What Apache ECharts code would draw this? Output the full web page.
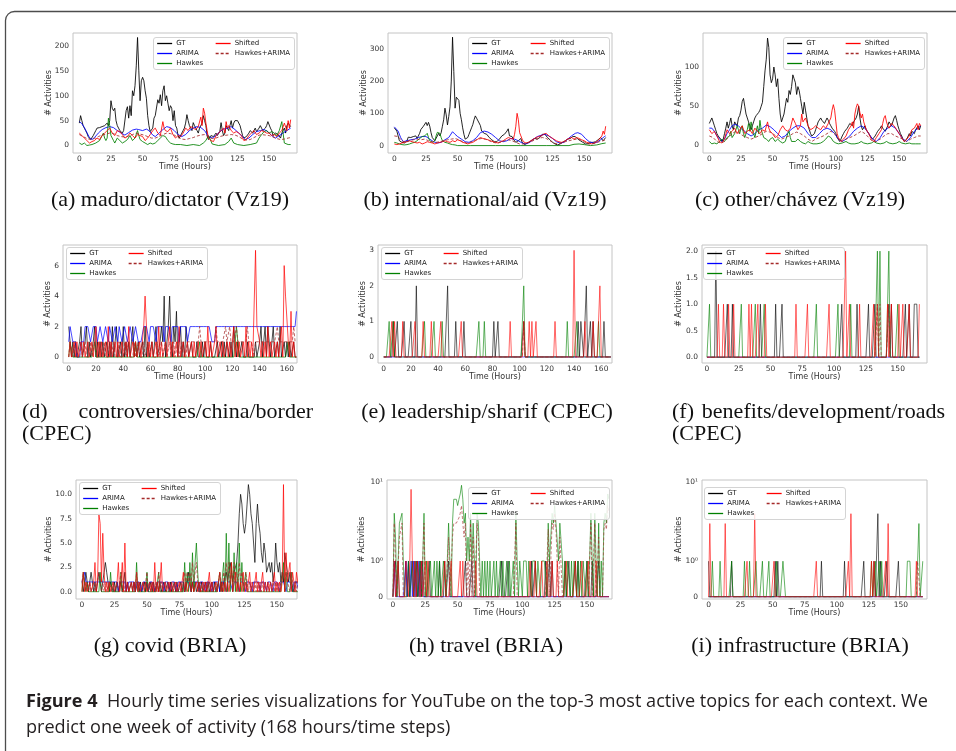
<!DOCTYPE html>
<html>
<head>
<meta charset="utf-8">
<script src="https://cdn.jsdelivr.net/npm/echarts@6/dist/echarts.min.js"></script>
<style>
html,body{margin:0;padding:0;background:#fff}
#chart{width:956px;height:751px}
</style>
</head>
<body>
<div id="chart"></div>
<script>
// ---------------------------------------------------------------
// Hourly activity series (168 hourly steps = one week) per topic.
// Dense lists are hourly values from hour 0; pair lists are [hour, value].
// ---------------------------------------------------------------

// (a) maduro/dictator (Vz19)
const aGT = [
  45,60,50,40,35,30,25,18,14,12,15,20,25,30,35,38,36,40,38,35,40,42,45,40,
  50,90,75,70,75,50,40,35,30,28,25,30,30,70,78,55,80,60,110,100,120,160,217,150,
  90,130,137,130,110,95,60,40,28,30,35,55,60,62,92,85,102,80,110,120,90,100,85,70,
  80,75,50,70,40,35,20,15,18,25,30,35,45,62,50,40,35,30,46,40,35,30,25,35,
  38,45,60,50,40,20,12,15,20,22,18,20,25,20,22,28,46,30,20,25,40,35,30,40,
  50,35,45,50,48,50,52,40,30,20,15,12,18,22,25,30,28,25,30,35,28,25,35,40,
  35,30,28,35,40,48,45,35,30,20,18,25,28,22,20,15,25,30,35,25,40,45,48,38
];
const aARIMA = [[0,48],[2,44],[4,36],[6,26],[8,16],[10,12],[12,16],[15,25],[18,32],[21,36],[24,38],[27,36],[30,30],[33,25],[36,21],[39,26],[42,31],[45,33],[47,32],[50,30],[53,33],[55,30],[58,21],[60,18],[63,25],[66,32],[69,38],[72,36],[75,30],[78,22],[81,18],[84,22],[87,30],[90,35],[93,38],[96,36],[99,30],[102,18],[105,15],[108,20],[111,28],[114,33],[117,35],[120,38],[123,32],[126,25],[129,18],[131,12],[134,15],[137,22],[140,28],[143,30],[146,32],[149,28],[152,20],[155,15],[158,20],[161,25],[164,30],[167,35]];
const aHawkes = [[0,5],[1,8],[2,2],[4,5],[6,0],[8,1],[10,2],[13,5],[16,10],[18,20],[19,25],[20,15],[21,10],[22,15],[23,55],[24,40],[25,20],[26,15],[27,10],[28,5],[30,15],[32,10],[34,5],[36,8],[38,12],[40,20],[42,10],[44,15],[46,30],[47,20],[48,12],[50,8],[52,5],[54,2],[56,5],[58,3],[60,5],[62,10],[64,15],[66,20],[68,18],[70,10],[72,5],[74,3],[76,2],[80,2],[85,0],[90,2],[95,0],[98,5],[100,10],[102,20],[103,15],[105,3],[110,0],[115,2],[118,8],[120,15],[122,5],[125,2],[130,0],[135,2],[140,5],[142,15],[144,22],[146,28],[148,30],[150,25],[152,28],[154,25],[156,20],[158,30],[160,48],[161,25],[162,5],[165,2],[167,2]];
const aShifted = [[0,25],[2,20],[4,15],[6,10],[8,5],[10,8],[12,10],[14,15],[16,12],[18,20],[20,25],[22,30],[24,35],[26,25],[28,20],[30,30],[32,28],[34,22],[36,15],[38,18],[40,25],[42,20],[44,15],[46,22],[48,20],[50,18],[52,10],[54,15],[56,22],[58,30],[60,35],[62,25],[64,20],[66,48],[67,35],[68,30],[70,28],[72,35],[74,22],[76,15],[78,20],[80,18],[82,25],[84,35],[86,30],[88,38],[90,35],[92,32],[94,38],[96,57],[97,40],[98,75],[99,65],[100,45],[101,30],[102,15],[104,10],[106,8],[108,20],[110,25],[112,30],[114,35],[115,25],[116,48],[117,35],[118,40],[120,30],[122,25],[124,28],[126,25],[128,20],[130,10],[132,12],[134,20],[136,25],[138,30],[140,22],[142,25],[144,30],[146,28],[148,25],[150,25],[152,20],[154,22],[156,18],[158,25],[160,30],[162,45],[164,30],[165,50],[166,35],[167,52]];
const aHA = [[0,22],[3,18],[6,14],[9,12],[12,14],[15,18],[18,21],[21,23],[24,25],[27,24],[30,20],[33,18],[36,17],[39,19],[42,22],[45,25],[48,23],[51,21],[54,18],[57,15],[60,15],[63,18],[66,22],[69,25],[72,24],[75,21],[78,16],[81,13],[84,12],[87,14],[90,16],[93,19],[96,21],[99,22],[102,17],[105,14],[108,15],[111,18],[114,20],[117,21],[120,22],[123,21],[126,18],[129,13],[132,11],[135,12],[138,16],[141,20],[144,22],[147,21],[150,20],[153,17],[156,14],[159,12],[162,13],[165,15],[167,16]];

// (b) international/aid (Vz19)
const bGT = [
  55,50,45,30,15,12,10,10,8,10,15,26,20,25,22,28,25,30,22,25,38,50,45,60,
  55,72,62,72,60,40,25,20,15,20,30,38,30,40,60,80,116,95,64,90,120,200,336,230,
  116,150,156,140,100,80,55,35,20,18,25,35,45,55,65,80,92,85,80,70,62,45,40,38,
  40,35,30,25,20,18,15,12,10,12,15,20,25,30,28,35,40,45,52,30,25,28,20,15,
  10,12,15,20,22,10,5,3,5,8,10,12,15,18,20,22,25,20,22,25,30,35,38,35,
  30,25,22,18,15,10,8,5,3,2,3,5,8,10,12,15,18,20,25,22,25,28,30,28,
  25,20,18,15,12,10,8,5,5,6,8,10,12,10,8,12,15,18,20,25,20,15,20,25
];
const bARIMA = [[0,58],[1,55],[3,45],[5,25],[7,12],[10,15],[13,18],[16,20],[19,25],[22,28],[25,28],[28,20],[31,12],[34,8],[37,10],[40,18],[43,25],[46,43],[48,35],[50,28],[53,20],[56,12],[59,10],[62,15],[65,25],[68,40],[71,45],[74,42],[77,35],[80,25],[83,15],[86,12],[89,15],[92,22],[95,20],[98,15],[101,8],[104,5],[107,10],[110,20],[113,28],[116,32],[119,35],[122,30],[125,22],[128,12],[131,8],[134,10],[137,20],[140,30],[143,38],[145,40],[148,35],[151,22],[154,12],[157,8],[160,10],[163,18],[166,28],[167,30]];
const bHawkes = [[0,10],[2,8],[4,5],[6,3],[8,2],[10,3],[12,5],[14,8],[16,10],[18,15],[20,22],[22,28],[24,30],[26,38],[27,25],[28,15],[30,10],[32,15],[33,30],[34,41],[35,42],[36,38],[37,25],[38,15],[40,10],[42,8],[44,5],[46,3],[48,2],[50,0],[60,0],[80,0],[100,0],[120,0],[138,0],[142,4],[146,5],[150,3],[155,0],[160,2],[164,6],[167,8]];
const bShifted = [[0,5],[2,3],[4,5],[6,8],[8,10],[10,12],[12,15],[14,12],[16,10],[18,8],[20,10],[22,5],[24,8],[26,12],[28,10],[30,8],[32,5],[34,8],[36,10],[38,12],[40,15],[42,12],[44,10],[46,15],[48,12],[50,18],[52,15],[54,10],[56,8],[58,5],[60,8],[62,10],[64,15],[66,20],[68,25],[70,22],[72,20],[74,18],[76,15],[78,12],[80,10],[82,8],[84,12],[86,15],[88,20],[90,25],[92,22],[94,20],[95,35],[96,60],[97,100],[98,80],[99,40],[100,30],[101,20],[102,12],[104,8],[106,10],[108,15],[110,20],[112,25],[114,28],[116,30],[118,35],[120,38],[122,30],[124,25],[126,20],[128,15],[130,12],[132,10],[134,12],[136,18],[138,22],[140,25],[142,20],[144,25],[146,22],[148,18],[150,15],[152,10],[154,8],[156,5],[158,8],[160,12],[162,20],[164,30],[165,45],[166,35],[167,60]];
const bHA = [[0,30],[3,28],[6,15],[9,10],[12,15],[15,18],[18,20],[21,18],[24,20],[27,15],[30,12],[33,10],[36,12],[39,15],[42,18],[45,20],[48,22],[51,18],[54,12],[57,8],[60,10],[63,15],[66,20],[69,22],[72,20],[75,15],[78,10],[81,8],[84,10],[87,15],[90,18],[93,15],[96,10],[99,5],[102,5],[105,8],[108,12],[111,18],[114,22],[117,25],[120,22],[123,15],[126,8],[129,5],[132,8],[135,12],[138,15],[141,18],[144,20],[147,18],[150,12],[153,5],[156,5],[159,8],[162,12],[165,15],[167,18]];

// (c) other/chávez (Vz19)
const cGT = [
  28,30,35,33,25,20,15,12,10,8,5,8,15,22,30,22,28,35,25,20,30,32,25,35,
  38,45,56,60,50,40,35,30,25,20,25,30,35,38,40,42,45,50,55,75,95,110,137,125,
  90,80,85,100,90,75,85,60,40,30,35,40,50,60,55,70,65,75,90,85,80,65,75,70,
  60,50,40,55,45,35,25,20,15,12,10,15,20,25,30,28,35,32,30,28,30,35,32,28,
  25,22,20,18,15,10,8,5,8,12,15,18,20,22,25,28,30,25,30,28,35,40,50,35,
  25,20,22,25,20,18,15,12,10,8,10,12,15,18,20,22,25,22,20,18,20,25,30,28,
  25,30,35,38,32,25,20,15,12,8,5,6,8,10,15,12,18,20,15,20,22,25,20,25
];
const cARIMA = [[0,22],[2,22],[4,18],[6,12],[8,8],[10,5],[12,8],[14,15],[16,20],[18,25],[20,27],[23,25],[26,20],[28,18],[30,15],[33,12],[36,15],[39,20],[42,22],[45,26],[48,24],[51,20],[54,15],[57,10],[60,12],[63,18],[66,22],[69,25],[72,25],[75,22],[78,15],[81,10],[84,10],[87,15],[90,20],[93,22],[96,20],[99,15],[102,8],[105,5],[108,8],[111,12],[114,18],[117,22],[120,25],[123,22],[126,15],[129,8],[132,5],[135,10],[138,18],[141,22],[144,25],[147,22],[150,15],[153,8],[156,5],[159,10],[162,18],[165,22],[167,25]];
const cHawkes = [[0,5],[1,3],[2,2],[4,3],[6,2],[8,5],[10,8],[12,5],[14,10],[16,12],[17,18],[18,10],[20,15],[22,25],[23,20],[24,15],[25,22],[26,25],[27,15],[28,10],[30,20],[31,28],[32,18],[33,30],[34,20],[35,15],[36,10],[37,18],[38,25],[39,15],[40,32],[41,20],[42,15],[43,10],[44,12],[45,8],[46,10],[47,5],[48,8],[50,10],[52,5],[54,8],[56,5],[58,3],[60,5],[62,15],[63,18],[64,10],[65,5],[66,3],[68,5],[70,8],[72,5],[74,3],[76,2],[78,5],[80,3],[82,2],[85,2],[88,3],[90,5],[92,8],[94,12],[96,10],[98,5],[100,3],[102,2],[105,3],[108,5],[110,3],[112,2],[115,2],[118,3],[120,5],[122,3],[125,2],[128,3],[130,5],[132,3],[135,2],[138,3],[140,5],[142,3],[145,2],[148,3],[150,5],[152,3],[155,2],[158,3],[160,2],[163,2],[165,2],[167,2]];
const cShifted = [[0,20],[2,15],[4,18],[6,12],[8,5],[10,3],[12,8],[14,20],[16,15],[18,18],[20,22],[22,15],[24,20],[26,25],[28,15],[30,18],[32,20],[34,15],[36,22],[38,18],[40,15],[42,20],[44,18],[46,30],[47,22],[48,18],[50,15],[52,10],[54,12],[56,20],[58,25],[60,20],[62,18],[64,22],[66,35],[68,28],[70,20],[72,25],[73,40],[74,30],[76,35],[78,25],[80,20],[82,22],[84,25],[86,22],[88,20],[90,25],[92,22],[94,28],[96,35],[97,45],[98,52],[99,45],[100,30],[101,15],[102,10],[104,5],[106,8],[108,12],[110,20],[112,25],[113,30],[114,22],[115,40],[116,48],[117,53],[118,50],[119,42],[120,35],[121,40],[122,30],[124,20],[126,15],[128,8],[130,5],[132,10],[134,15],[136,20],[137,28],[138,35],[139,38],[140,30],[141,25],[142,22],[144,28],[146,25],[148,20],[150,15],[152,10],[154,5],[156,8],[158,12],[160,20],[162,22],[164,28],[165,20],[166,28],[167,25]];
const cHA = [[0,12],[3,10],[6,5],[9,3],[12,5],[15,10],[18,15],[21,18],[24,15],[27,12],[30,10],[33,8],[36,10],[39,12],[42,15],[45,18],[48,17],[51,14],[54,10],[57,8],[60,10],[63,12],[66,15],[69,17],[72,15],[75,12],[78,8],[81,5],[84,8],[87,10],[90,12],[93,15],[96,18],[99,15],[102,8],[105,5],[108,8],[111,10],[114,12],[117,15],[120,18],[123,15],[126,10],[129,5],[132,5],[135,8],[138,12],[141,15],[144,15],[147,12],[150,10],[153,8],[156,5],[159,8],[162,10],[165,12],[167,12]];

// (d) controversies/china/border (CPEC)
const dGT = [
  2,1,0,1,0,1,0,0,1,2,0,0,1,2,0,1,0,0,1,2,0,1,0,1,
  0,1,0,0,1,0,1,0,2,0,1,2,0,0,1,0,2,0,1,0,1,0,1,2,
  0,1,0,1,0,0,1,0,2,0,1,0,0,1,0,1,2,0,0,1,2,1,4,0,
  1,2,4,1,0,2,1,3,0,1,2,0,1,0,2,1,0,0,1,0,0,0,1,0,
  0,0,1,0,1,0,0,0,1,0,0,0,0,1,0,0,1,0,1,0,1,1,0,1,
  0,2,1,0,1,0,0,1,0,0,0,1,0,0,0,0,0,1,0,0,1,2,0,1,
  2,0,2,1,0,1,2,0,0,1,0,2,0,0,1,0,1,0,1,0,0,1,0,0
];
const dARIMA = [
  1,2,2,1,1,1,0,0,0,1,1,1,2,2,2,2,1,1,2,2,2,1,1,2,
  2,1,1,2,2,1,2,2,1,1,2,2,1,2,2,1,1,2,2,1,1,2,2,1,
  1,2,2,1,1,1,1,2,2,2,2,1,2,2,2,2,1,2,2,2,2,2,1,2,
  2,2,2,1,2,2,2,2,2,1,2,2,2,2,2,1,1,2,2,2,2,2,2,2,
  2,2,2,2,2,2,2,2,2,1,1,1,2,2,2,2,2,2,2,2,2,2,2,2,
  2,2,2,2,2,2,2,2,2,2,2,2,2,2,2,2,2,2,2,2,2,2,2,2,
  2,2,2,2,2,2,2,2,2,2,2,2,2,2,2,2,2,2,2,2,2,2,2,3
];
const dHawkes = [
  0,1,1,0,0,0,0,0,0,0,0,0,0,0,0,0,0,0,0,1,0,0,0,0,
  0,0,0,0,0,0,0,0,0,0,0,0,0,0,0,0,0,0,0,0,0,0,0,0,
  0,1,0,0,0,0,0,0,0,0,0,0,0,0,0,0,0,0,0,0,0,0,0,0,
  0,0,0,0,0,0,0,0,0,0,0,0,0,0,0,0,0,0,0,0,0,0,0,0,
  1,0,0,0,0,0,0,0,0,0,0,0,0,0,0,0,0,0,0,0,0,0,0,0,
  0,0,1,2,1,0,0,0,0,0,0,0,0,0,0,0,0,0,0,0,0,0,0,0,
  0,0,0,0,0,0,0,0,0,0,0,0,0,0,0,0,0,1,0,0,0,0,0,0
];
const dShifted = [
  0,1,0,0,1,0,1,0,0,1,0,1,0,0,1,0,0,1,0,1,2,0,1,0,
  1,0,0,1,0,2,0,1,0,0,1,0,1,0,0,1,0,0,1,0,2,0,0,1,
  0,1,0,0,1,0,1,2,4,2,0,1,0,1,0,0,1,0,2,0,1,0,0,1,
  0,1,2,0,1,0,0,1,0,2,0,0,1,0,0,1,0,0,1,0,1,0,0,1,
  0,1,0,0,1,0,2,0,1,0,0,1,2,0,0,1,0,1,0,0,1,0,1,0,
  0,2,0,1,0,1,0,0,1,0,2,0,1,0,1,0,0,7,2,2,1,0,1,0,
  1,0,2,0,1,0,0,1,0,1,0,0,2,0,6,4,4,1,0,3,0,1,0,0
];
const dHA = [
  0,1,1,0,0,1,0,0,0,1,0,0,1,0,0,0,1,0,0,1,0,0,0,1,
  0,0,1,0,0,0,1,0,0,1,0,0,0,1,0,0,0,1,0,0,1,0,0,0,
  1,0,0,1,0,0,0,1,0,0,1,0,0,1,0,0,0,1,0,0,1,0,0,1,
  0,0,1,0,0,1,0,0,1,0,0,1,0,0,0,1,1,1,1,1,1,1,1,1,
  2,1,1,1,1,1,1,1,1,1,1,1,2,1,1,1,1,1,1,2,1,1,2,1,
  1,1,1,2,1,1,1,1,1,1,1,2,1,1,1,1,0,1,1,1,1,1,1,1,
  1,1,1,1,1,1,1,1,1,2,1,1,1,1,1,1,1,1,1,1,1,2,1,1
];

// (e) leadership/sharif (CPEC)
const eGT = [
  0,0,0,0,0,0,0,1,0,0,1,0,0,0,0,1,0,0,0,0,1,0,0,0,
  2,0,0,0,0,0,0,0,0,0,0,0,0,0,0,0,0,0,0,0,0,0,0,2,
  0,0,0,0,0,1,0,0,0,0,0,1,0,0,0,0,0,0,0,0,0,0,0,0,
  0,0,0,0,0,0,0,0,0,1,0,0,1,0,0,0,0,0,0,0,0,0,0,0,
  0,0,0,0,0,0,0,1,0,0,0,0,0,0,0,0,0,0,0,0,0,0,0,0,
  0,0,0,0,0,0,0,0,0,0,0,0,0,0,0,0,0,0,0,0,0,0,0,1,
  0,1,1,0,0,2,0,0,1,0,1,0,0,0,0,0,0,0,1,0,0,0,0,0
];
const eARIMA = [
  0,0,0,0,0,0,0,0,0,0,0,0,0,0,0,0,0,0,0,0,0,0,0,0,
  0,0,0,0,0,0,0,0,0,0,0,0,0,0,0,0,0,0,0,0,0,0,0,0,
  0,0,0,0,0,0,0,0,0,0,0,0,0,0,0,0,0,0,0,0,0,0,0,0,
  0,0,0,0,0,0,0,0,0,0,0,0,0,0,0,0,0,0,0,0,0,0,0,0,
  0,0,0,0,0,0,0,0,0,0,0,0,0,0,0,0,0,0,0,0,0,0,0,0,
  0,0,0,0,0,0,0,0,0,0,0,0,0,0,0,0,0,0,0,0,0,0,0,0,
  0,0,0,0,0,0,0,0,0,0,0,0,0,0,0,0,0,0,0,0,0,0,0,0
];
const eHawkes = [
  0,0,0,0,1,0,0,1,0,0,0,0,0,0,0,0,0,0,0,0,0,0,0,0,
  0,0,0,0,0,0,1,0,0,0,0,0,0,1,0,0,0,0,0,1,0,0,0,0,
  0,0,0,0,0,0,0,0,0,0,0,0,0,0,0,0,0,0,0,0,0,0,1,0,
  0,0,1,0,0,0,0,0,0,0,0,0,0,0,0,0,0,0,0,0,0,0,0,0,
  0,0,0,0,0,0,0,2,0,0,0,0,0,0,0,0,0,0,0,0,0,0,0,0,
  0,0,0,0,0,0,0,0,0,0,0,0,0,0,0,1,0,0,0,0,0,0,1,0,
  0,0,0,0,0,0,0,0,0,0,0,0,0,0,1,0,0,0,0,0,0,0,0,0
];
const eShifted = [
  0,0,0,0,0,0,1,0,1,0,0,0,0,0,1,0,0,0,0,0,0,0,0,1,
  0,0,0,0,0,1,0,0,0,0,0,1,0,0,0,0,0,0,1,0,0,0,0,0,
  0,0,0,0,0,0,0,0,0,1,0,0,0,0,0,0,0,0,0,0,0,0,0,0,
  0,0,0,0,0,0,0,0,0,0,0,0,0,0,0,0,0,0,0,0,0,1,0,0,
  0,0,0,0,0,0,0,1,0,0,0,1,0,1,0,0,1,0,0,0,0,0,0,0,
  0,0,0,0,0,0,1,0,0,0,0,0,0,0,0,0,0,0,0,0,3,0,0,0,
  0,0,0,0,1,0,0,0,0,0,1,0,0,0,0,2,0,0,0,0,0,0,0,0
];
const eHA = [
  0,0,0,0,0,0,0,0,0,0,0,0,0,0,0,0,0,0,0,0,0,0,0,0,
  0,0,0,0,0,0,0,0,0,0,0,0,0,0,0,0,0,0,0,0,0,0,0,0,
  0,0,0,0,0,0,0,0,0,0,0,0,0,0,0,0,0,0,0,0,0,0,0,0,
  0,0,0,0,0,0,0,0,0,0,0,0,0,0,0,0,0,0,0,0,0,0,0,0,
  0,0,0,0,0,0,0,1,0,0,0,0,0,0,0,0,0,0,0,0,0,0,0,0,
  0,0,0,0,0,0,0,0,0,0,0,0,0,0,0,0,0,0,0,0,0,0,0,0,
  0,0,0,0,0,0,0,0,0,0,0,0,0,0,0,0,0,0,0,0,0,0,0,0
];

// (f) benefits/development/roads (CPEC)
const fGT = [
  0,0,0,0,0,0,0,2,0,0,0,0,0,0,0,0,1,0,0,0,1,0,0,0,
  0,0,0,0,0,0,0,0,0,0,0,0,0,0,0,0,0,0,1,0,0,0,0,0,
  0,0,0,0,0,0,1,0,0,0,0,1,0,0,0,0,0,0,0,0,0,0,0,0,
  0,0,0,0,0,0,0,0,0,0,0,0,0,0,0,0,0,0,0,0,0,0,0,0,
  0,0,0,0,0,0,0,0,0,0,1,0,0,0,0,0,0,0,0,0,0,0,1,0,
  0,0,0,0,0,0,0,1,0,0,0,0,1,0,0,0,0,0,0,0,0,0,0,1,
  0,1,0,0,0,0,0,0,0,0,0,0,1,0,0,1,0,0,0,1,1,1,0,0
];
const fARIMA = [
  0,0,0,0,0,0,0,0,0,0,0,0,0,0,0,0,0,0,0,0,0,0,0,0,
  0,0,0,0,0,0,0,0,0,0,0,0,0,0,0,0,0,0,0,0,0,0,0,0,
  0,0,0,0,0,0,0,0,0,0,0,0,0,0,0,0,0,0,0,0,0,0,0,0,
  0,0,0,0,0,0,0,0,0,0,0,0,0,0,0,0,0,0,0,0,0,0,0,0,
  0,0,0,0,0,0,0,0,0,0,0,0,0,0,0,0,0,0,0,0,0,0,0,0,
  0,0,0,0,0,0,0,0,0,0,0,0,0,0,0,0,0,0,0,0,0,0,0,0,
  0,0,0,0,0,0,0,0,0,0,0,0,0,0,0,0,0,0,0,0,0,0,0,0
];
const fHawkes = [
  0,0,1,0,0,0,0,0,0,0,0,0,0,0,0,0,0,0,0,0,0,0,0,0,
  0,0,0,1,0,0,0,0,0,0,0,0,0,0,1,0,0,0,0,0,0,1,0,0,
  0,0,0,0,0,0,0,0,0,0,0,0,0,0,0,0,0,0,0,0,0,0,0,0,
  0,0,0,0,0,0,0,0,0,0,0,0,0,0,1,0,0,0,0,0,0,0,0,0,
  0,0,0,0,0,0,0,1,0,0,0,0,0,0,0,0,0,1,0,0,0,0,0,0,
  0,0,0,0,0,0,0,0,0,0,0,0,0,0,2,0,2,0,0,0,0,0,0,2,
  0,0,0,0,0,0,1,0,0,0,0,0,0,0,0,0,0,0,0,0,0,0,0,0
];
const fShifted = [
  0,0,0,0,0,0,0,0,0,1,0,0,0,1,0,0,0,1,0,0,0,1,0,0,
  0,0,0,0,0,0,0,0,0,1,0,1,0,0,0,0,1,0,0,0,0,0,1,0,
  0,0,0,0,0,0,0,0,0,0,0,0,0,0,0,0,0,0,0,0,0,0,1,0,
  0,0,0,0,0,0,0,1,0,0,0,0,0,0,0,0,0,0,0,0,0,0,0,0,
  1,0,0,0,0,0,0,0,0,0,0,0,0,2,0,0,1,0,0,0,0,0,0,0,
  1,0,0,0,0,0,0,0,0,0,0,1,0,0,1,0,0,0,0,0,0,0,1,0,
  0,1,0,0,0,0,0,1,0,0,1,0,0,0,0,1,0,0,0,0,0,0,0,1
];
const fHA = [
  0,0,0,0,0,0,0,0,0,0,0,0,0,0,0,0,0,0,0,0,0,0,0,0,
  0,0,0,0,0,0,0,0,0,0,0,0,0,0,0,0,0,0,0,0,0,0,0,0,
  0,0,0,0,0,0,0,0,0,0,0,0,0,0,0,0,0,0,0,0,0,0,0,0,
  0,0,0,0,0,0,0,0,0,0,0,0,0,0,0,0,0,0,0,0,0,0,0,0,
  0,0,0,0,0,0,0,0,0,0,0,0,0,0,0,0,0,0,0,0,0,0,0,0,
  0,0,0,0,0,0,0,0,0,0,0,0,0,0,1,0,1,0,0,0,0,0,0,1,
  0,0,0,0,0,0,0,0,0,0,0,0,0,0,0,0,0,0,0,0,0,0,0,0
];

// (g) covid (BRIA)
const gGT = [
  1,0,1,2,1,0,1,2,1,0,1,0,1,2,1,0,1,2,3,2,1,0,1,1,
  0,1,0,1,0,0,1,0,1,2,0,1,0,0,1,0,1,0,0,1,0,1,0,0,
  1,0,1,0,0,1,0,1,0,0,1,0,1,0,0,1,0,0,1,0,1,0,0,1,
  0,1,0,0,1,0,1,0,0,1,2,1,0,1,0,1,0,0,1,0,1,0,0,1,
  0,1,0,0,1,0,1,0,0,1,0,1,0,1,1,2,1,2,3,2,1,2,2,3,
  5,8,10,9,7,6,7,9,11,10,8,7,5,3,7,9,7,6,4,3,5,4,2,2,
  3,2,3,1,2,5,3,2,3,1,2,1,4,4,2,1,2,1,1,0,1,1,1,1
];
const gARIMA = [
  1,1,2,1,1,1,1,1,1,1,1,1,1,1,1,1,1,1,1,1,1,1,1,1,
  1,1,1,1,0,1,1,1,1,1,0,0,1,1,1,1,1,0,1,1,1,1,0,1,
  1,1,1,0,1,1,1,1,0,0,1,1,1,1,1,0,1,1,1,1,0,1,1,1,
  1,0,1,1,1,1,1,0,1,1,1,1,0,1,1,1,1,1,0,1,1,1,1,0,
  1,1,1,1,0,1,1,1,1,1,0,1,1,1,1,0,1,1,1,1,0,1,1,1,
  1,0,1,1,1,1,0,1,1,1,1,0,1,1,1,1,1,0,1,1,1,1,0,1,
  1,1,1,0,1,1,1,1,0,1,1,1,1,0,1,1,1,1,0,1,1,1,1,0
];
const gHawkes = [
  0,2,1,0,1,0,0,0,0,0,0,0,0,0,2,0,0,0,0,0,0,0,2,0,
  0,0,0,0,0,0,2,0,0,0,0,0,0,0,0,0,0,0,3,0,0,0,0,0,
  0,0,2,0,0,0,0,0,0,0,0,2,0,0,0,0,0,0,0,0,0,0,0,0,
  0,0,0,0,0,0,0,3,0,2,0,3,0,4,0,3,5,2,0,0,0,0,0,0,
  0,0,0,0,0,0,0,0,0,0,2,0,0,3,0,6,0,5,0,3,0,4,0,3,
  0,5,0,3,0,0,2,0,0,0,0,0,0,0,0,0,0,0,0,0,0,0,0,0,
  0,0,0,0,0,0,0,0,0,0,0,3,0,2,0,0,0,2,0,0,0,0,0,0
];
const gShifted = [
  0,2,0,1,0,0,1,0,0,1,3,0,1,8,7,1,6,2,0,1,0,1,0,0,
  1,0,0,1,3,0,1,3,0,5,0,1,0,0,1,0,1,0,2,0,1,0,0,1,
  0,1,0,0,1,0,1,0,3,0,1,0,1,3,0,0,1,0,0,1,0,1,0,0,
  1,0,0,1,0,1,2,0,1,0,0,1,0,1,0,0,1,0,1,0,0,1,0,1,
  0,1,2,0,1,0,0,1,0,1,2,0,1,0,1,0,1,0,1,3,0,1,2,0,
  1,0,1,0,2,0,1,0,1,2,0,1,0,1,2,0,1,0,1,2,0,1,0,1,
  0,1,0,1,2,0,1,0,1,0,1,11,0,4,1,1,3,0,2,1,0,2,1,1
];
const gHA = [
  1,2,1,0,1,0,1,0,0,1,0,0,1,2,1,0,1,0,1,0,0,1,1,0,
  1,0,0,1,0,0,2,0,1,0,0,1,0,0,1,0,1,0,2,0,1,0,0,1,
  0,1,2,0,1,0,0,1,0,1,0,2,0,1,0,0,1,0,1,0,0,1,0,1,
  0,1,0,0,1,0,1,2,1,2,1,2,1,3,1,2,3,1,0,1,0,0,1,0,
  1,0,1,0,1,0,0,1,0,1,2,1,0,2,1,3,1,3,1,2,1,3,1,2,
  1,3,1,2,1,0,2,1,0,1,0,1,0,1,0,1,0,1,0,1,0,1,0,1,
  0,1,0,1,0,1,0,1,0,1,1,2,1,2,1,1,0,2,1,0,1,0,1,1
];

// (h) travel (BRIA)
const hGT = [
  0,0,1,0,1,0,0,0,0,0,1,0,1,0,0,1,0,1,0,1,0,1,0,1,
  0,0,0,0,1,0,0,0,0,0,0,0,1,0,0,0,1,0,0,1,0,0,0,0,
  0,0,0,0,0,0,0,0,1,0,0,0,0,1,0,0,0,0,0,0,0,0,0,0,
  0,0,0,0,0,0,0,0,0,0,0,0,1,0,0,0,0,1,0,0,0,0,0,0,
  0,0,0,0,0,0,0,0,0,0,0,1,0,0,1,0,0,0,0,0,0,0,1,0,
  0,1,0,1,0,0,0,0,0,0,0,0,0,1,0,0,1,0,0,0,0,1,0,1,
  0,0,0,0,0,0,1,0,0,0,1,0,0,0,0,1,0,0,0,0,0,0,0,0
];
const hARIMA = [
  0,1,0,0,0,0,0,0,0,0,1,0,1,0,1,0,1,0,1,0,1,0,1,0,
  0,0,0,0,0,0,0,0,0,0,0,0,0,0,0,0,0,0,0,0,0,0,0,0,
  0,0,0,0,0,0,0,0,0,0,0,0,0,0,0,0,0,0,0,0,0,0,0,0,
  0,0,0,0,0,0,0,0,0,0,0,0,0,0,0,0,0,0,0,0,0,0,0,0,
  0,0,0,0,0,0,0,0,0,0,0,0,0,0,0,0,0,0,0,0,0,0,0,0,
  0,0,0,0,0,0,0,0,0,0,0,0,0,0,0,0,0,0,0,0,0,0,0,0,
  0,0,0,0,0,0,0,0,0,0,0,0,0,0,0,0,0,0,0,0,0,0,0,0
];
const hHawkes = [
  0,4,2,0,1,3,3,4,1,0,0,0,1,0,0,1,0,0,1,0,0,1,0,1,
  4,0,1,0,0,1,0,0,1,0,1,0,1,0,0,1,1,0,1,3,1,0,3,6,
  6,6,5,6,7,9,6,3,4,1,2,1,4,1,3,1,0,4,3,1,0,1,0,1,
  0,1,0,1,0,0,1,0,1,0,0,1,0,1,0,0,1,0,1,0,0,1,0,4,
  1,0,1,1,0,1,1,1,0,1,1,0,1,1,1,0,1,1,0,1,1,1,1,0,
  3,1,2,4,3,5,3,3,1,3,3,1,0,1,0,1,1,0,1,0,1,1,0,1,
  0,1,0,1,1,0,1,0,1,4,1,0,4,1,0,3,0,1,0,3,4,3,7,6
];
const hShifted = [
  0,1,0,0,1,0,0,0,0,0,1,1,0,1,8,1,0,1,0,1,1,0,1,0,
  0,1,0,1,0,0,0,0,0,0,0,0,0,0,0,0,1,0,0,0,0,1,0,0,
  0,0,0,0,1,0,1,0,0,0,0,0,0,0,0,0,1,0,0,0,0,0,0,0,
  0,0,0,0,0,0,0,0,0,0,0,0,0,0,0,0,0,0,0,0,0,0,0,0,
  0,0,0,0,0,0,0,0,0,0,1,0,0,0,1,0,0,0,0,1,0,0,0,1,
  0,0,0,1,0,0,0,1,0,0,0,0,0,0,1,0,0,0,0,0,0,1,0,0,
  0,0,1,0,0,0,0,1,0,0,0,0,0,1,0,0,0,0,0,0,0,0,0,0
];
const hHA = [
  0,3,1,0,0,2,2,3,0,0,0,0,0,0,0,0,0,0,0,0,0,0,0,0,
  3,0,0,0,0,0,0,0,0,0,0,0,0,0,0,0,0,0,0,2,0,0,2,3,
  3,3,3,3.5,4,5,3,2,3,0,1,0,3,0,2,0,0,3,2,0,0,0,0,0,
  0,0,0,0,0,0,0,0,0,0,0,0,0,0,0,0,0,0,0,0,0,0,0,3,
  0,0,0,0,0,0,0,0,0,0,0,0,0,0,0,0,0,0,0,0,0,0,0,0,
  2.5,0,1,3,2.5,4,2.5,2.5,0,2,2,0,0,0,0,0,0,0,0,0,0,0,0,0,
  0,0,0,0,0,0,0,0,0,3,0,0,3,0,0,2,0,0,0,2.5,3,2.5,5,4
];

// (i) infrastructure (BRIA)
const iGT = [
  1,0,0,0,0,0,0,0,0,0,0,0,0,0,0,0,0,0,1,0,0,0,0,0,
  0,0,0,0,0,0,0,0,0,0,0,0,0,0,0,0,0,0,0,0,0,0,0,0,
  0,0,0,0,1,0,1,0,0,0,0,0,0,0,0,0,0,0,0,0,0,0,0,0,
  0,0,0,0,0,0,0,0,0,0,0,0,0,0,0,0,1,0,0,0,0,0,0,0,
  0,0,0,0,0,0,0,0,0,0,1,0,0,0,0,0,0,0,0,0,0,0,0,0,
  0,1,0,0,0,0,0,0,0,1,0,0,4,0,1,0,0,0,0,1,0,0,0,0,
  0,0,0,0,1,0,0,0,0,0,0,0,0,0,0,0,0,0,0,0,0,0,0,0
];
const iARIMA = [
  0,0,0,0,0,0,0,0,0,0,0,0,0,0,0,0,0,0,0,0,0,0,0,0,
  0,0,0,0,0,0,0,0,0,0,0,0,0,0,0,0,0,0,0,0,0,0,0,0,
  0,0,0,0,0,0,0,0,0,0,0,0,0,0,0,0,0,0,0,0,0,0,0,0,
  0,0,0,0,0,0,0,0,0,0,0,0,0,0,0,0,0,0,0,0,0,0,0,0,
  0,0,0,0,0,0,0,0,0,0,0,0,0,0,0,0,0,0,0,0,0,0,0,0,
  0,0,0,0,0,0,0,0,0,0,0,0,0,0,0,0,0,0,0,0,0,0,0,0,
  0,0,0,0,0,0,0,0,0,0,0,0,0,0,0,0,0,0,0,0,0,0,0,0
];
const iHawkes = [
  0,0,0,1,0,0,0,0,0,1,0,0,0,0,0,0,0,0,1,0,0,0,0,0,
  0,0,0,0,1,0,0,0,1,0,0,0,0,1,0,0,0,0,1,0,0,0,0,1,
  0,0,0,0,0,1,0,0,0,0,1,1,0,0,0,0,0,0,0,0,0,0,0,0,
  0,0,0,0,0,0,0,0,0,0,0,0,0,0,0,0,0,0,0,0,0,0,0,0,
  0,0,0,0,0,0,0,0,0,0,0,0,0,0,0,0,0,0,0,0,0,0,0,0,
  0,0,0,0,0,0,0,1,0,0,1,0,0,1,0,1,0,0,0,0,0,0,0,0,
  0,0,0,0,0,0,0,0,0,0,0,1,1,1,0,0,0,0,0,0,3,0,0,1
];
const iShifted = [
  0,3,0,0,0,0,0,0,0,0,0,0,0,3,0,0,0,0,0,0,0,0,0,0,
  0,0,0,0,0,0,1,0,0,0,0,0,4,0,0,0,0,0,0,0,0,0,0,0,
  0,0,0,1,0,0,0,0,0,0,0,0,0,0,0,0,0,0,0,0,0,0,0,0,
  0,0,0,0,0,0,0,0,0,0,0,0,1,0,0,0,0,0,0,0,0,0,0,0,
  0,0,0,0,0,0,0,0,0,0,0,0,0,1,0,4,0,0,0,0,0,0,0,0,
  0,0,0,0,0,0,0,1,0,1,0,0,0,0,0,0,0,0,1,0,3,0,0,0,
  0,0,0,0,0,0,0,0,0,0,0,0,0,0,0,0,0,0,1,0,0,0,0,0
];
const iHA = [
  0,0,0,0,0,0,0,0,0,0,0,0,0,0,0,0,0,0,0,0,0,0,0,0,
  0,0,0,0,0,0,0,0,0,0,0,0,0,0,0,0,0,0,0,0,0,0,0,0,
  0,0,0,0,0,0,0,0,0,0,0,0,0,0,0,0,0,0,0,0,0,0,0,0,
  0,0,0,0,0,0,0,0,0,0,0,0,0,0,0,0,0,0,0,0,0,0,0,0,
  0,0,0,0,0,0,0,0,0,0,0,0,0,0,0,0,0,0,0,0,0,0,0,0,
  0,0,0,0,0,0,0,0,0,0,0,0,0,0,0,0,0,0,0,0,0,0,0,0,
  0,0,0,0,0,0,0,0,0,0,0,0,0,0,0,0,0,0,0,1,1,0,0,0
];

// Axis tick values and labels
const ticks25 = [0, 25, 50, 75, 100, 125, 150];
const ticks20 = [0, 20, 40, 60, 80, 100, 120, 140, 160];
const symlogTickLabels = ['0', '10\u2070', '10\u00b9'];
const symlogTickValues = [0, 1, 10];

const captions = [
  '(a) maduro/dictator (Vz19)', '(b) international/aid (Vz19)', '(c) other/ch\u00e1vez (Vz19)',
  '(e) leadership/sharif (CPEC)', '(g) covid (BRIA)', '(h) travel (BRIA)', '(i) infrastructure (BRIA)'
];
const figureLabel = 'Figure 4';
const figureText1 = 'Hourly time series visualizations for YouTube on the top-3 most active topics for each context. We';
const figureText2 = 'predict one week of activity (168 hours/time steps)';

// ---------------------------------------------------------------
// Drawing
// ---------------------------------------------------------------
const NAMES = ['GT', 'ARIMA', 'Hawkes', 'Shifted', 'Hawkes+ARIMA'];
const COLORS = { 'GT': '#000000', 'ARIMA': '#0000ff', 'Hawkes': '#008000', 'Shifted': '#ff0000', 'Hawkes+ARIMA': '#a52a2a' };
const TICK_FONT = 'DejaVu Sans';

// symmetric-log scale used by the BRIA travel/infrastructure panels:
// linear between 0 and 1, logarithmic above 1
const SYMLOG_LIN = 0.45;
const symlog = v => (v <= 1 ? SYMLOG_LIN * v : SYMLOG_LIN + Math.log10(v));

const hourly = arr => arr.map((v, h) => [h, v]);

const panels = [
  { box: [73, 33, 224, 120], x: [-5, 172], xt: ticks25, y: [-15, 226], yt: [0, 50, 100, 150, 200],
    s: [hourly(aGT), aARIMA, aHawkes, aShifted, aHA], legend: [153, 37], alpha: 0.85 },
  { box: [388, 33, 224, 120], x: [-5, 172], xt: ticks25, y: [-23, 349], yt: [0, 100, 200, 300],
    s: [hourly(bGT), bARIMA, bHawkes, bShifted, bHA], legend: [468, 37], alpha: 0.85 },
  { box: [703, 33, 224, 120], x: [-5, 172], xt: ticks25, y: [-9.7, 143.4], yt: [0, 50, 100],
    s: [hourly(cGT), cARIMA, cHawkes, cShifted, cHA], legend: [783, 37], alpha: 0.85 },
  { box: [63, 245, 234, 118], x: [-4.2, 167.4], xt: ticks20, y: [-0.39, 7.35], yt: [0, 2, 4, 6],
    s: [hourly(dGT), hourly(dARIMA), hourly(dHawkes), hourly(dShifted), hourly(dHA)], legend: [66, 247], alpha: 0.7 },
  { box: [378, 245, 234, 118], x: [-4.2, 167.9], xt: ticks20, y: [-0.17, 3.15], yt: [0, 1, 2, 3],
    s: [hourly(eGT), hourly(eARIMA), hourly(eHawkes), hourly(eShifted), hourly(eHA)], legend: [381, 247], alpha: 0.6 },
  { box: [702, 245, 225, 118], x: [-3.9, 173], xt: ticks25, y: [-0.11, 2.115], yt: [0, 0.5, 1, 1.5, 2], yfmt: v => v.toFixed(1),
    s: [hourly(fGT), hourly(fARIMA), hourly(fHawkes), hourly(fShifted), hourly(fHA)], legend: [703, 247], alpha: 0.6 },
  { box: [76, 480, 221, 119], x: [-4.6, 165.4], xt: ticks25, y: [-0.75, 11.47], yt: [0, 2.5, 5, 7.5, 10], yfmt: v => v.toFixed(1),
    s: [hourly(gGT), hourly(gARIMA), hourly(gHawkes), hourly(gShifted), hourly(gHA)], legend: [79, 482], alpha: 0.7 },
  { box: [387, 480, 225, 119], x: [-4.6, 169.3], xt: ticks25, y: [-0.029, 1.471], symlog: true,
    s: [hourly(hGT), hourly(hARIMA), hourly(hHawkes), hourly(hShifted), hourly(hHA)], legend: [468, 487], alpha: 0.6 },
  { box: [702, 480, 225, 119], x: [-5.1, 170.3], xt: ticks25, y: [-0.029, 1.479], symlog: true,
    s: [hourly(iGT), hourly(iARIMA), hourly(iHawkes), hourly(iShifted), hourly(iHA)], legend: [704, 487], alpha: 0.6 }
];

const grid = [], xAxis = [], yAxis = [], series = [], legend = [], graphic = [];

// outer rounded frame of the figure
graphic.push({ type: 'rect', silent: true, z: 0,
  shape: { x: 5.5, y: 11.5, width: 1000, height: 800, r: 9 },
  style: { fill: 'none', stroke: '#4d4d4d', lineWidth: 1.3 } });

function text(x, y, str, opts) {
  return Object.assign({ type: 'text', x: x, y: y, silent: true, z: 10,
    style: Object.assign({ text: str, fill: '#111', fontSize: 8, fontFamily: TICK_FONT,
      align: 'center', verticalAlign: 'middle', textAlign: 'center', textVerticalAlign: 'middle' }, opts.style || {}) },
    opts.el || {});
}

panels.forEach((p, i) => {
  const [L, T, W, H] = p.box;
  grid.push({ left: L, top: T, width: W, height: H, show: true, borderColor: '#c4c4c4', borderWidth: 1, backgroundColor: 'transparent' });

  xAxis.push({ gridIndex: i, type: 'value', min: p.x[0], max: p.x[1],
    axisLine: { show: false }, axisTick: { show: false }, splitLine: { show: false },
    axisLabel: { customValues: p.xt, fontSize: 7.5, color: '#333', fontFamily: TICK_FONT, margin: 2 } });

  const yLabel = p.symlog
    ? { customValues: symlogTickValues.map(symlog), formatter: v => symlogTickLabels[symlogTickValues.map(symlog).findIndex(t => Math.abs(t - v) < 1e-6)] }
    : { customValues: p.yt, formatter: p.yfmt || (v => String(v)) };
  yAxis.push({ gridIndex: i, type: 'value', min: p.y[0], max: p.y[1],
    axisLine: { show: false }, axisTick: { show: false }, splitLine: { show: false },
    axisLabel: Object.assign({ fontSize: 7.5, color: '#333', fontFamily: TICK_FONT, margin: 4 }, yLabel) });

  NAMES.forEach((name, k) => {
    const data = p.symlog ? p.s[k].map(d => [d[0], symlog(d[1])]) : p.s[k];
    series.push({ type: 'line', name: name, xAxisIndex: i, yAxisIndex: i, data: data,
      symbol: 'none', silent: true, clip: true, z: 2,
      lineStyle: { color: COLORS[name], width: 1, opacity: p.alpha, type: name === 'Hawkes+ARIMA' ? [3, 2] : 'solid' },
      itemStyle: { color: COLORS[name] } });
  });

  // legend: frame plus two columns of line keys
  const [lx, ly] = p.legend;
  graphic.push({ type: 'rect', silent: true, z: 3,
    shape: { x: lx + 0.5, y: ly + 0.5, width: 141, height: 32, r: 2.5 },
    style: { fill: 'rgba(255,255,255,0.85)', stroke: '#d4d4d4', lineWidth: 1 } });
  const legendBase = { orient: 'vertical', itemWidth: 15, itemHeight: 7, itemGap: 3, padding: 0,
    selectedMode: false, z: 4, itemStyle: { opacity: 0 }, lineStyle: { width: 1.3, opacity: 1 },
    textStyle: { fontSize: 7, fontFamily: TICK_FONT, color: '#222', padding: [0, 0, 0, -1] } };
  legend.push(Object.assign({}, legendBase, { left: lx + 3.5, top: ly + 3, data: ['GT', 'ARIMA', 'Hawkes'] }));
  legend.push(Object.assign({}, legendBase, { left: lx + 62, top: ly + 3, data: ['Shifted', 'Hawkes+ARIMA'] }));

  // axis titles
  graphic.push(text(L + W / 2, T + H + 13.5, 'Time (Hours)', { style: { fontSize: 8, fill: '#333' } }));
  const yGap = [24.4, 24.4, 24.4, 15, 15, 23.4, 27.4, 25, 23.4][i];
  graphic.push(text(L - yGap, T + H / 2, '# Activities', { style: { fontSize: 8, fill: '#333' }, el: { rotation: Math.PI / 2 } }));
});

// sub-figure captions
const SERIF = 'Liberation Serif';
const capStyle = { fontSize: 22, fontFamily: SERIF, fill: '#111' };
const capLeft = Object.assign({}, capStyle, { align: 'left', textAlign: 'left' });
const capRight = Object.assign({}, capStyle, { align: 'right', textAlign: 'right' });
graphic.push(text(170, 200, captions[0], { style: capStyle }));
graphic.push(text(485, 200, captions[1], { style: capStyle }));
graphic.push(text(800, 200, captions[2], { style: capStyle }));
graphic.push(text(22, 412, '(d)', { style: capLeft }));
graphic.push(text(313, 412, 'controversies/china/border', { style: capRight }));
graphic.push(text(22, 434, '(CPEC)', { style: capLeft }));
graphic.push(text(487, 412, captions[3], { style: capStyle }));
graphic.push(text(672, 412, '(f)', { style: capLeft }));
graphic.push(text(945, 412, 'benefits/development/roads', { style: capRight }));
graphic.push(text(672, 434, '(CPEC)', { style: capLeft }));
graphic.push(text(170, 646, captions[4], { style: capStyle }));
graphic.push(text(486, 646, captions[5], { style: capStyle }));
graphic.push(text(800, 646, captions[6], { style: capStyle }));

// figure caption
const CAP_FONT = 'Open Sans';
const CAP_SIZE = 18.1;
const capFont = { fontSize: CAP_SIZE, fontFamily: CAP_FONT, fill: '#231f20', align: 'left', textAlign: 'left' };
graphic.push(text(26, 702, '{b|' + figureLabel + '}  ' + figureText1,
  { style: Object.assign({}, capFont, { rich: { b: { fontWeight: 'bold', fontSize: CAP_SIZE, fontFamily: CAP_FONT, fill: '#231f20' } } }) }));
graphic.push(text(26, 728, figureText2, { style: capFont }));

const chart = echarts.init(document.getElementById('chart'), null, { renderer: 'canvas' });
chart.setOption({
  animation: false,
  backgroundColor: '#ffffff',
  grid: grid, xAxis: xAxis, yAxis: yAxis, series: series, legend: legend, graphic: graphic
});
</script>
</body>
</html>
